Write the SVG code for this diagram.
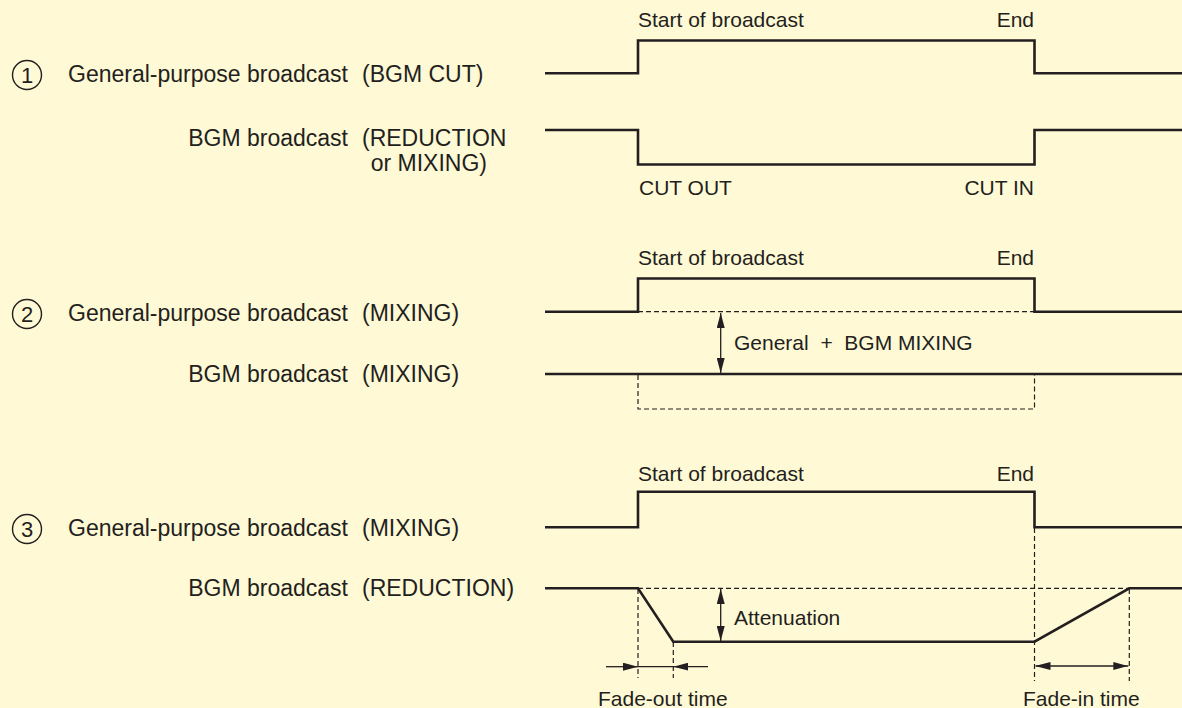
<svg xmlns="http://www.w3.org/2000/svg" width="1182" height="708" viewBox="0 0 1182 708">
<defs>
<style>
.bg{fill:#FFF9D5}
.lbl{font-family:"Liberation Sans",Arial,sans-serif;font-size:23px;fill:#231F20}
.ann{font-family:"Liberation Sans",Arial,sans-serif;font-size:21px;fill:#231F20}
.num{font-family:"Liberation Sans",Arial,sans-serif;font-size:22px;fill:#231F20;text-anchor:middle}
.ring{fill:none;stroke:#231F20;stroke-width:1.4}
.wave{fill:none;stroke:#231F20;stroke-width:2.6;stroke-linejoin:miter;stroke-linecap:butt}
.dash{fill:none;stroke:#231F20;stroke-width:1.2;stroke-dasharray:5 3}
.thin{fill:none;stroke:#231F20;stroke-width:1.3}
.end{text-anchor:end}
</style>
<marker id="ah" viewBox="0 0 15 8" refX="15" refY="4" markerWidth="15" markerHeight="8" markerUnits="userSpaceOnUse" orient="auto-start-reverse">
<path d="M0,0 L15,4 L0,8 z" fill="#231F20"/>
</marker>
</defs>
<rect class="bg" x="0" y="0" width="1182" height="708"/>

<!-- Section 1 -->
<g id="s1-labels">
<circle class="ring" cx="27" cy="75" r="14.5"/>
<text class="num" x="27" y="83">1</text>
<text class="lbl end" x="348" y="82">General-purpose broadcast</text>
<text class="lbl" x="362" y="82">(BGM CUT)</text>
<text class="lbl end" x="348" y="146">BGM broadcast</text>
<text class="lbl" x="362" y="146">(REDUCTION</text>
<text class="lbl end" x="487" y="171">or MIXING)</text>
</g>
<g id="s1-general">
<path class="wave" d="M545,73.3 H638 V40.5 H1034.5 V73.3 H1182"/>
<text class="ann" x="638" y="26.7">Start of broadcast</text>
<text class="ann end" x="1034" y="26.7">End</text>
</g>
<g id="s1-bgm">
<path class="wave" d="M545,130 H638 V164.5 H1034.5 V130 H1182"/>
<text class="ann" x="639" y="195">CUT OUT</text>
<text class="ann end" x="1034" y="195">CUT IN</text>
</g>

<!-- Section 2 -->
<g id="s2-labels">
<circle class="ring" cx="27" cy="314" r="14.5"/>
<text class="num" x="27" y="322">2</text>
<text class="lbl end" x="348" y="321">General-purpose broadcast</text>
<text class="lbl" x="362" y="321">(MIXING)</text>
<text class="lbl end" x="348" y="382">BGM broadcast</text>
<text class="lbl" x="362" y="382">(MIXING)</text>
</g>
<g id="s2-general">
<path class="wave" d="M545,311.7 H638 V278.5 H1034.5 V311.7 H1182"/>
<path class="dash" d="M638,311.7 H1034.5"/>
<text class="ann" x="638" y="265">Start of broadcast</text>
<text class="ann end" x="1034" y="265">End</text>
</g>
<g id="s2-bgm">
<path class="wave" d="M545,374 H1182"/>
<path class="dash" d="M638,375 V409 H1034.5 V375"/>
<text class="ann" x="734" y="350" xml:space="preserve">General  +  BGM MIXING</text>
</g>

<!-- Section 3 -->
<g id="s3-labels">
<circle class="ring" cx="27" cy="529" r="14.5"/>
<text class="num" x="27" y="537">3</text>
<text class="lbl end" x="348" y="536">General-purpose broadcast</text>
<text class="lbl" x="362" y="536">(MIXING)</text>
<text class="lbl end" x="348" y="596">BGM broadcast</text>
<text class="lbl" x="362" y="596">(REDUCTION)</text>
</g>
<g id="s3-general">
<path class="wave" d="M545,527.3 H638 V491.7 H1034.5 V527.3 H1182"/>
<text class="ann" x="638" y="480.7">Start of broadcast</text>
<text class="ann end" x="1034" y="480.7">End</text>
</g>
<g id="s3-bgm">
<path class="wave" d="M545,588.3 H638 L673.3,641.7 H1034.5 L1129.3,588.3 H1182"/>
<path class="dash" d="M638,588.3 H1129.3"/>
<path class="dash" d="M638,589 V678 M673.3,642 V678 M1034.5,528 V681 M1129.3,589 V681"/>
<text class="ann" x="734" y="625">Attenuation</text>
<text class="ann" x="598" y="706">Fade-out time</text>
<text class="ann" x="1023" y="706">Fade-in time</text>
</g>

<g id="connectors">
<path class="thin" d="M720.7,313 V373" marker-start="url(#ah)" marker-end="url(#ah)"/>
<path class="thin" d="M720.7,589 V641" marker-start="url(#ah)" marker-end="url(#ah)"/>
<path class="thin" d="M606,666.7 H638" marker-end="url(#ah)"/>
<path class="thin" d="M638,666.7 H673.3"/>
<path class="thin" d="M708,666.7 H673.3" marker-end="url(#ah)"/>
<path class="thin" d="M1035.5,666 H1128.3" marker-start="url(#ah)" marker-end="url(#ah)"/>
</g>
</svg>
